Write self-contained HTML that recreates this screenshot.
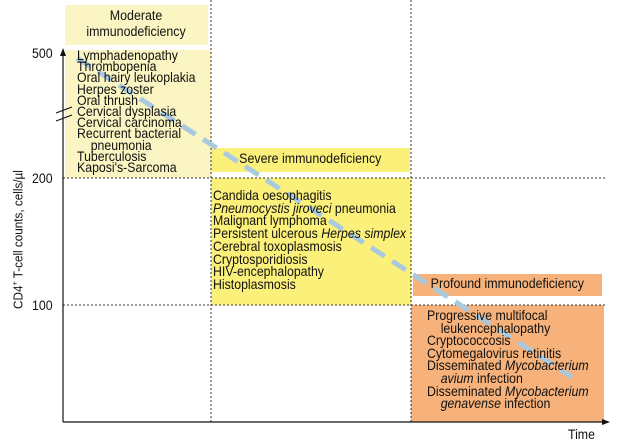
<!DOCTYPE html><html><head><style>
body{margin:0;width:620px;height:444px;background:#fff;position:relative;overflow:hidden;font-family:"Liberation Sans",sans-serif;color:#111}
.b{position:absolute}
.t{position:absolute;font-size:14px;white-space:nowrap;transform:scaleX(0.88);transform-origin:0 0}
.h{text-align:center;font-size:13.5px}
.h span{display:inline-block;transform:scaleX(0.92)}
</style></head><body>
<div class="b" style="left:65px;top:5px;width:143px;height:40px;background:#faf5c2"></div>
<div class="b h" style="left:65px;top:8px;width:143px;line-height:16px"><span>Moderate<br>immunodeficiency</span></div>
<div class="b" style="left:65px;top:50px;width:146px;height:128px;background:#faf5c2"></div>
<div class="b" style="left:211px;top:148px;width:199px;height:24px;background:#fbf07a"></div>
<div class="b h" style="left:211px;top:151px;width:199px"><span>Severe immunodeficiency</span></div>
<div class="b" style="left:211px;top:178px;width:200px;height:127px;background:#fbf07a"></div>
<div class="b" style="left:413px;top:274px;width:189px;height:22px;background:#f6b27a"></div>
<div class="b h" style="left:413px;top:276px;width:189px"><span>Profound immunodeficiency</span></div>
<div class="b" style="left:411px;top:305px;width:193px;height:117px;background:#f6b27a"></div>
<svg class="b" style="left:0;top:0" width="620" height="444">
<g stroke="#333" stroke-width="1" stroke-dasharray="2,2" fill="none">
<line x1="211" y1="0" x2="211" y2="422"/><line x1="411" y1="0" x2="411" y2="422"/>
<line x1="63" y1="178" x2="607" y2="178"/><line x1="63" y1="305" x2="607" y2="305"/>
</g>
<line x1="77" y1="58" x2="572" y2="377" stroke="#a9c9df" stroke-width="5" stroke-dasharray="16,9"/>
<line x1="63" y1="422" x2="63" y2="53" stroke="#111" stroke-width="1.2"/>
<polygon points="63,48 60,56 66,56" fill="#111"/>
<line x1="63" y1="422" x2="605" y2="422" stroke="#111" stroke-width="1.2"/>
<polygon points="610,422 602,419 602,425" fill="#111"/>
<line x1="56" y1="113" x2="72" y2="107" stroke="#111"/><line x1="56" y1="121" x2="72" y2="115" stroke="#111"/>
</svg>
<div class="t" style="left:32px;top:45px">500</div>
<div class="t" style="left:32px;top:170px">200</div>
<div class="t" style="left:32px;top:297px">100</div>
<div class="t" style="left:568px;top:426px">Time</div>
<div class="b" style="left:-67px;top:232px;width:170px;text-align:center;transform:rotate(-90deg);font-size:13px;white-space:nowrap"><span style="display:inline-block;transform:scaleX(0.9)">CD4<sup style="font-size:8px">+</sup> T-cell counts, cells/µl</span></div>
<div class="t" style="left:77px;top:50px;line-height:11.2px">Lymphadenopathy<br>Thrombopenia<br>Oral hairy leukoplakia<br>Herpes zoster<br>Oral thrush<br>Cervical dysplasia<br>Cervical carcinoma<br>Recurrent bacterial<br>&nbsp;&nbsp;&nbsp;&nbsp;pneumonia<br>Tuberculosis<br>Kaposi's-Sarcoma</div>
<div class="t" style="left:213px;top:189px;line-height:12.7px">Candida oesophagitis<br><i>Pneumocystis jiroveci</i> pneumonia<br>Malignant lymphoma<br>Persistent ulcerous <i>Herpes simplex</i><br>Cerebral toxoplasmosis<br>Cryptosporidiosis<br>HIV-encephalopathy<br>Histoplasmosis</div>
<div class="t" style="left:427px;top:309px;line-height:12.6px">Progressive multifocal<br>&nbsp;&nbsp;&nbsp;&nbsp;leukencephalopathy<br>Cryptococcosis<br>Cytomegalovirus retinitis<br>Disseminated <i>Mycobacterium</i><br>&nbsp;&nbsp;&nbsp;&nbsp;<i>avium</i> infection<br>Disseminated <i>Mycobacterium</i><br>&nbsp;&nbsp;&nbsp;&nbsp;<i>genavense</i> infection</div>
</body></html>
